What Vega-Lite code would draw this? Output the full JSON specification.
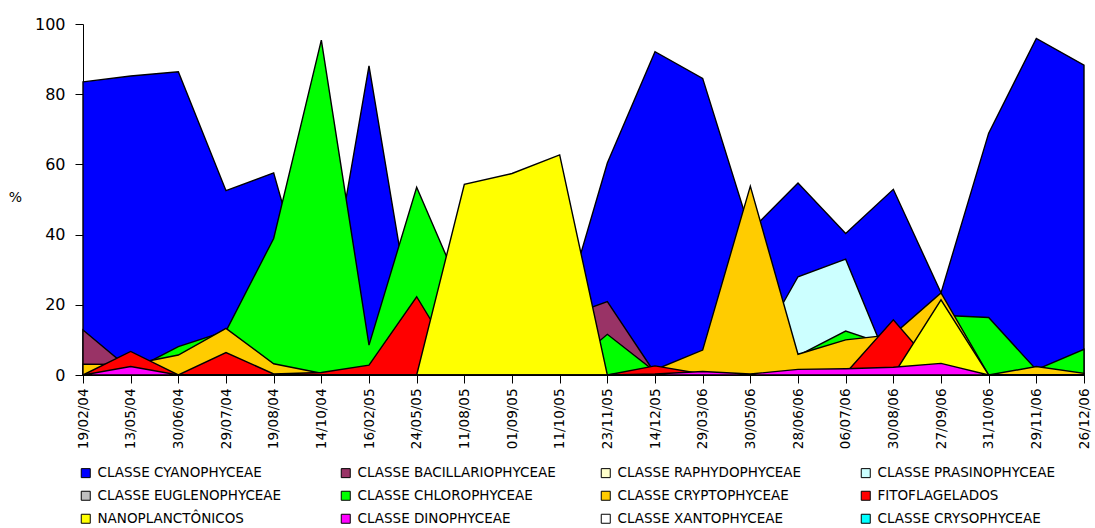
{
  "$schema": "https://vega.github.io/schema/vega-lite/v6.json",
  "width": 1001,
  "height": 351,
  "autosize": {"type": "none"},
  "padding": {"left": 83, "top": 24, "right": 11, "bottom": 153},
  "background": "white",
  "config": {
    "view": {"stroke": null},
    "font": "DejaVu Sans",
    "axis": {"grid": false, "domainColor": "black", "tickColor": "black", "labelColor": "black", "titleColor": "black", "labelFont": "DejaVu Sans"}
  },
  "data": {
    "values": [
      {"s":"CLASSE CYANOPHYCEAE","d":"19/02/04","v":83.5},{"s":"CLASSE CYANOPHYCEAE","d":"13/05/04","v":85.2},{"s":"CLASSE CYANOPHYCEAE","d":"30/06/04","v":86.4},{"s":"CLASSE CYANOPHYCEAE","d":"29/07/04","v":52.5},{"s":"CLASSE CYANOPHYCEAE","d":"19/08/04","v":57.6},{"s":"CLASSE CYANOPHYCEAE","d":"14/10/04","v":9.5},{"s":"CLASSE CYANOPHYCEAE","d":"16/02/05","v":88.1},{"s":"CLASSE CYANOPHYCEAE","d":"24/05/05","v":7},{"s":"CLASSE CYANOPHYCEAE","d":"11/08/05","v":8},{"s":"CLASSE CYANOPHYCEAE","d":"01/09/05","v":10},{"s":"CLASSE CYANOPHYCEAE","d":"11/10/05","v":14},{"s":"CLASSE CYANOPHYCEAE","d":"23/11/05","v":60.4},{"s":"CLASSE CYANOPHYCEAE","d":"14/12/05","v":92.1},{"s":"CLASSE CYANOPHYCEAE","d":"29/03/06","v":84.5},{"s":"CLASSE CYANOPHYCEAE","d":"30/05/06","v":41},{"s":"CLASSE CYANOPHYCEAE","d":"28/06/06","v":54.7},{"s":"CLASSE CYANOPHYCEAE","d":"06/07/06","v":40.3},{"s":"CLASSE CYANOPHYCEAE","d":"30/08/06","v":52.9},{"s":"CLASSE CYANOPHYCEAE","d":"27/09/06","v":23.4},{"s":"CLASSE CYANOPHYCEAE","d":"31/10/06","v":68.9},{"s":"CLASSE CYANOPHYCEAE","d":"29/11/06","v":95.9},{"s":"CLASSE CYANOPHYCEAE","d":"26/12/06","v":88.3},

      {"s":"CLASSE BACILLARIOPHYCEAE","d":"19/02/04","v":12.8},{"s":"CLASSE BACILLARIOPHYCEAE","d":"13/05/04","v":1.5},{"s":"CLASSE BACILLARIOPHYCEAE","d":"30/06/04","v":0},{"s":"CLASSE BACILLARIOPHYCEAE","d":"29/07/04","v":0},{"s":"CLASSE BACILLARIOPHYCEAE","d":"19/08/04","v":0},{"s":"CLASSE BACILLARIOPHYCEAE","d":"14/10/04","v":0},{"s":"CLASSE BACILLARIOPHYCEAE","d":"16/02/05","v":0},{"s":"CLASSE BACILLARIOPHYCEAE","d":"24/05/05","v":0},{"s":"CLASSE BACILLARIOPHYCEAE","d":"11/08/05","v":0},{"s":"CLASSE BACILLARIOPHYCEAE","d":"01/09/05","v":0},{"s":"CLASSE BACILLARIOPHYCEAE","d":"11/10/05","v":16},{"s":"CLASSE BACILLARIOPHYCEAE","d":"23/11/05","v":20.9},{"s":"CLASSE BACILLARIOPHYCEAE","d":"14/12/05","v":0.5},{"s":"CLASSE BACILLARIOPHYCEAE","d":"29/03/06","v":0},{"s":"CLASSE BACILLARIOPHYCEAE","d":"30/05/06","v":0},{"s":"CLASSE BACILLARIOPHYCEAE","d":"28/06/06","v":0},{"s":"CLASSE BACILLARIOPHYCEAE","d":"06/07/06","v":0},{"s":"CLASSE BACILLARIOPHYCEAE","d":"30/08/06","v":0},{"s":"CLASSE BACILLARIOPHYCEAE","d":"27/09/06","v":0},{"s":"CLASSE BACILLARIOPHYCEAE","d":"31/10/06","v":0},{"s":"CLASSE BACILLARIOPHYCEAE","d":"29/11/06","v":0},{"s":"CLASSE BACILLARIOPHYCEAE","d":"26/12/06","v":0},

      {"s":"CLASSE PRASINOPHYCEAE","d":"19/02/04","v":0},{"s":"CLASSE PRASINOPHYCEAE","d":"13/05/04","v":0},{"s":"CLASSE PRASINOPHYCEAE","d":"30/06/04","v":0},{"s":"CLASSE PRASINOPHYCEAE","d":"29/07/04","v":0},{"s":"CLASSE PRASINOPHYCEAE","d":"19/08/04","v":0},{"s":"CLASSE PRASINOPHYCEAE","d":"14/10/04","v":0},{"s":"CLASSE PRASINOPHYCEAE","d":"16/02/05","v":0},{"s":"CLASSE PRASINOPHYCEAE","d":"24/05/05","v":0},{"s":"CLASSE PRASINOPHYCEAE","d":"11/08/05","v":0},{"s":"CLASSE PRASINOPHYCEAE","d":"01/09/05","v":0},{"s":"CLASSE PRASINOPHYCEAE","d":"11/10/05","v":0},{"s":"CLASSE PRASINOPHYCEAE","d":"23/11/05","v":0},{"s":"CLASSE PRASINOPHYCEAE","d":"14/12/05","v":0},{"s":"CLASSE PRASINOPHYCEAE","d":"29/03/06","v":0},{"s":"CLASSE PRASINOPHYCEAE","d":"30/05/06","v":4},{"s":"CLASSE PRASINOPHYCEAE","d":"28/06/06","v":28},{"s":"CLASSE PRASINOPHYCEAE","d":"06/07/06","v":33},{"s":"CLASSE PRASINOPHYCEAE","d":"30/08/06","v":0},{"s":"CLASSE PRASINOPHYCEAE","d":"27/09/06","v":0},{"s":"CLASSE PRASINOPHYCEAE","d":"31/10/06","v":0},{"s":"CLASSE PRASINOPHYCEAE","d":"29/11/06","v":0},{"s":"CLASSE PRASINOPHYCEAE","d":"26/12/06","v":0},

      {"s":"CLASSE CHLOROPHYCEAE","d":"19/02/04","v":0},{"s":"CLASSE CHLOROPHYCEAE","d":"13/05/04","v":1},{"s":"CLASSE CHLOROPHYCEAE","d":"30/06/04","v":8.1},{"s":"CLASSE CHLOROPHYCEAE","d":"29/07/04","v":12.5},{"s":"CLASSE CHLOROPHYCEAE","d":"19/08/04","v":38.9},{"s":"CLASSE CHLOROPHYCEAE","d":"14/10/04","v":95.4},{"s":"CLASSE CHLOROPHYCEAE","d":"16/02/05","v":8.5},{"s":"CLASSE CHLOROPHYCEAE","d":"24/05/05","v":53.5},{"s":"CLASSE CHLOROPHYCEAE","d":"11/08/05","v":22},{"s":"CLASSE CHLOROPHYCEAE","d":"01/09/05","v":0},{"s":"CLASSE CHLOROPHYCEAE","d":"11/10/05","v":0},{"s":"CLASSE CHLOROPHYCEAE","d":"23/11/05","v":11.6},{"s":"CLASSE CHLOROPHYCEAE","d":"14/12/05","v":1},{"s":"CLASSE CHLOROPHYCEAE","d":"29/03/06","v":0},{"s":"CLASSE CHLOROPHYCEAE","d":"30/05/06","v":0},{"s":"CLASSE CHLOROPHYCEAE","d":"28/06/06","v":5.5},{"s":"CLASSE CHLOROPHYCEAE","d":"06/07/06","v":12.5},{"s":"CLASSE CHLOROPHYCEAE","d":"30/08/06","v":8},{"s":"CLASSE CHLOROPHYCEAE","d":"27/09/06","v":17},{"s":"CLASSE CHLOROPHYCEAE","d":"31/10/06","v":16.4},{"s":"CLASSE CHLOROPHYCEAE","d":"29/11/06","v":1.5},{"s":"CLASSE CHLOROPHYCEAE","d":"26/12/06","v":7.3},

      {"s":"CLASSE CRYPTOPHYCEAE","d":"19/02/04","v":3.1},{"s":"CLASSE CRYPTOPHYCEAE","d":"13/05/04","v":3},{"s":"CLASSE CRYPTOPHYCEAE","d":"30/06/04","v":5.7},{"s":"CLASSE CRYPTOPHYCEAE","d":"29/07/04","v":13.3},{"s":"CLASSE CRYPTOPHYCEAE","d":"19/08/04","v":3.2},{"s":"CLASSE CRYPTOPHYCEAE","d":"14/10/04","v":0.5},{"s":"CLASSE CRYPTOPHYCEAE","d":"16/02/05","v":0},{"s":"CLASSE CRYPTOPHYCEAE","d":"24/05/05","v":0},{"s":"CLASSE CRYPTOPHYCEAE","d":"11/08/05","v":0},{"s":"CLASSE CRYPTOPHYCEAE","d":"01/09/05","v":0},{"s":"CLASSE CRYPTOPHYCEAE","d":"11/10/05","v":0},{"s":"CLASSE CRYPTOPHYCEAE","d":"23/11/05","v":0},{"s":"CLASSE CRYPTOPHYCEAE","d":"14/12/05","v":1.5},{"s":"CLASSE CRYPTOPHYCEAE","d":"29/03/06","v":7.1},{"s":"CLASSE CRYPTOPHYCEAE","d":"30/05/06","v":53.8},{"s":"CLASSE CRYPTOPHYCEAE","d":"28/06/06","v":5.9},{"s":"CLASSE CRYPTOPHYCEAE","d":"06/07/06","v":10},{"s":"CLASSE CRYPTOPHYCEAE","d":"30/08/06","v":11.5},{"s":"CLASSE CRYPTOPHYCEAE","d":"27/09/06","v":23.4},{"s":"CLASSE CRYPTOPHYCEAE","d":"31/10/06","v":0},{"s":"CLASSE CRYPTOPHYCEAE","d":"29/11/06","v":2.4},{"s":"CLASSE CRYPTOPHYCEAE","d":"26/12/06","v":0.5},

      {"s":"FITOFLAGELADOS","d":"19/02/04","v":0},{"s":"FITOFLAGELADOS","d":"13/05/04","v":6.7},{"s":"FITOFLAGELADOS","d":"30/06/04","v":0},{"s":"FITOFLAGELADOS","d":"29/07/04","v":6.4},{"s":"FITOFLAGELADOS","d":"19/08/04","v":0.3},{"s":"FITOFLAGELADOS","d":"14/10/04","v":0.7},{"s":"FITOFLAGELADOS","d":"16/02/05","v":2.8},{"s":"FITOFLAGELADOS","d":"24/05/05","v":22.3},{"s":"FITOFLAGELADOS","d":"11/08/05","v":0},{"s":"FITOFLAGELADOS","d":"01/09/05","v":0},{"s":"FITOFLAGELADOS","d":"11/10/05","v":0},{"s":"FITOFLAGELADOS","d":"23/11/05","v":0},{"s":"FITOFLAGELADOS","d":"14/12/05","v":2.6},{"s":"FITOFLAGELADOS","d":"29/03/06","v":0.3},{"s":"FITOFLAGELADOS","d":"30/05/06","v":0},{"s":"FITOFLAGELADOS","d":"28/06/06","v":0},{"s":"FITOFLAGELADOS","d":"06/07/06","v":0.5},{"s":"FITOFLAGELADOS","d":"30/08/06","v":15.7},{"s":"FITOFLAGELADOS","d":"27/09/06","v":0},{"s":"FITOFLAGELADOS","d":"31/10/06","v":0},{"s":"FITOFLAGELADOS","d":"29/11/06","v":0},{"s":"FITOFLAGELADOS","d":"26/12/06","v":0},

      {"s":"NANOPLANCTÔNICOS","d":"19/02/04","v":0},{"s":"NANOPLANCTÔNICOS","d":"13/05/04","v":0},{"s":"NANOPLANCTÔNICOS","d":"30/06/04","v":0},{"s":"NANOPLANCTÔNICOS","d":"29/07/04","v":0},{"s":"NANOPLANCTÔNICOS","d":"19/08/04","v":0},{"s":"NANOPLANCTÔNICOS","d":"14/10/04","v":0},{"s":"NANOPLANCTÔNICOS","d":"16/02/05","v":0},{"s":"NANOPLANCTÔNICOS","d":"24/05/05","v":0},{"s":"NANOPLANCTÔNICOS","d":"11/08/05","v":54.3},{"s":"NANOPLANCTÔNICOS","d":"01/09/05","v":57.4},{"s":"NANOPLANCTÔNICOS","d":"11/10/05","v":62.7},{"s":"NANOPLANCTÔNICOS","d":"23/11/05","v":0},{"s":"NANOPLANCTÔNICOS","d":"14/12/05","v":0},{"s":"NANOPLANCTÔNICOS","d":"29/03/06","v":0},{"s":"NANOPLANCTÔNICOS","d":"30/05/06","v":0},{"s":"NANOPLANCTÔNICOS","d":"28/06/06","v":0},{"s":"NANOPLANCTÔNICOS","d":"06/07/06","v":0},{"s":"NANOPLANCTÔNICOS","d":"30/08/06","v":0},{"s":"NANOPLANCTÔNICOS","d":"27/09/06","v":21.4},{"s":"NANOPLANCTÔNICOS","d":"31/10/06","v":0},{"s":"NANOPLANCTÔNICOS","d":"29/11/06","v":0},{"s":"NANOPLANCTÔNICOS","d":"26/12/06","v":0},

      {"s":"CLASSE DINOPHYCEAE","d":"19/02/04","v":0},{"s":"CLASSE DINOPHYCEAE","d":"13/05/04","v":2.4},{"s":"CLASSE DINOPHYCEAE","d":"30/06/04","v":0},{"s":"CLASSE DINOPHYCEAE","d":"29/07/04","v":0},{"s":"CLASSE DINOPHYCEAE","d":"19/08/04","v":0},{"s":"CLASSE DINOPHYCEAE","d":"14/10/04","v":0},{"s":"CLASSE DINOPHYCEAE","d":"16/02/05","v":0},{"s":"CLASSE DINOPHYCEAE","d":"24/05/05","v":0},{"s":"CLASSE DINOPHYCEAE","d":"11/08/05","v":0},{"s":"CLASSE DINOPHYCEAE","d":"01/09/05","v":0},{"s":"CLASSE DINOPHYCEAE","d":"11/10/05","v":0},{"s":"CLASSE DINOPHYCEAE","d":"23/11/05","v":0},{"s":"CLASSE DINOPHYCEAE","d":"14/12/05","v":0.3},{"s":"CLASSE DINOPHYCEAE","d":"29/03/06","v":1},{"s":"CLASSE DINOPHYCEAE","d":"30/05/06","v":0.3},{"s":"CLASSE DINOPHYCEAE","d":"28/06/06","v":1.6},{"s":"CLASSE DINOPHYCEAE","d":"06/07/06","v":1.8},{"s":"CLASSE DINOPHYCEAE","d":"30/08/06","v":2.2},{"s":"CLASSE DINOPHYCEAE","d":"27/09/06","v":3.3},{"s":"CLASSE DINOPHYCEAE","d":"31/10/06","v":0},{"s":"CLASSE DINOPHYCEAE","d":"29/11/06","v":0},{"s":"CLASSE DINOPHYCEAE","d":"26/12/06","v":0}
    ]
  },
  "mark": {"type": "area", "stroke": "black", "strokeWidth": 1.4, "opacity": 1, "interpolate": "linear"},
  "encoding": {
    "x": {
      "field": "d", "type": "ordinal",
      "scale": {"type": "point", "padding": 0, "domain": ["19/02/04","13/05/04","30/06/04","29/07/04","19/08/04","14/10/04","16/02/05","24/05/05","11/08/05","01/09/05","11/10/05","23/11/05","14/12/05","29/03/06","30/05/06","28/06/06","06/07/06","30/08/06","27/09/06","31/10/06","29/11/06","26/12/06"]},
      "axis": {"title": null, "labelAngle": -90, "labelFontSize": 13.5, "tickSize": 8, "labelPadding": 5, "labelAlign": "right", "labelBaseline": "middle"}
    },
    "y": {
      "field": "v", "type": "quantitative", "stack": null,
      "scale": {"domain": [0, 100], "nice": false},
      "axis": {"values": [0, 20, 40, 60, 80, 100], "title": "%", "titleAngle": 0, "titleX": -68, "titleY": 173, "titleAlign": "center", "titleBaseline": "middle", "titleFontSize": 14, "titleFontWeight": "normal", "titleFont": "DejaVu Sans", "labelFontSize": 16, "tickSize": 8, "labelPadding": 10}
    },
    "color": {
      "field": "s", "type": "nominal",
      "scale": {
        "domain": ["CLASSE CYANOPHYCEAE","CLASSE BACILLARIOPHYCEAE","CLASSE RAPHYDOPHYCEAE","CLASSE PRASINOPHYCEAE","CLASSE EUGLENOPHYCEAE","CLASSE CHLOROPHYCEAE","CLASSE CRYPTOPHYCEAE","FITOFLAGELADOS","NANOPLANCTÔNICOS","CLASSE DINOPHYCEAE","CLASSE XANTOPHYCEAE","CLASSE CRYSOPHYCEAE"],
        "range": ["#0000FF","#993366","#FFFFCC","#CCFFFF","#C0C0C0","#00FF00","#FFCC00","#FF0000","#FFFF00","#FF00FF","#FFFFFF","#00FFFF"]
      },
      "legend": {
        "title": null, "orient": "none", "legendX": -4, "legendY": 442, "direction": "horizontal", "columns": 4,
        "gridAlign": "all", "columnPadding": 43, "rowPadding": 8, "padding": 0,
        "symbolType": "square", "symbolSize": 81, "symbolStrokeColor": "black", "symbolStrokeWidth": 1, "symbolOpacity": 1,
        "labelFont": "DejaVu Sans", "labelFontSize": 13.5, "labelLimit": 300, "labelOffset": 5, "labelColor": "black"
      }
    }
  }
}
